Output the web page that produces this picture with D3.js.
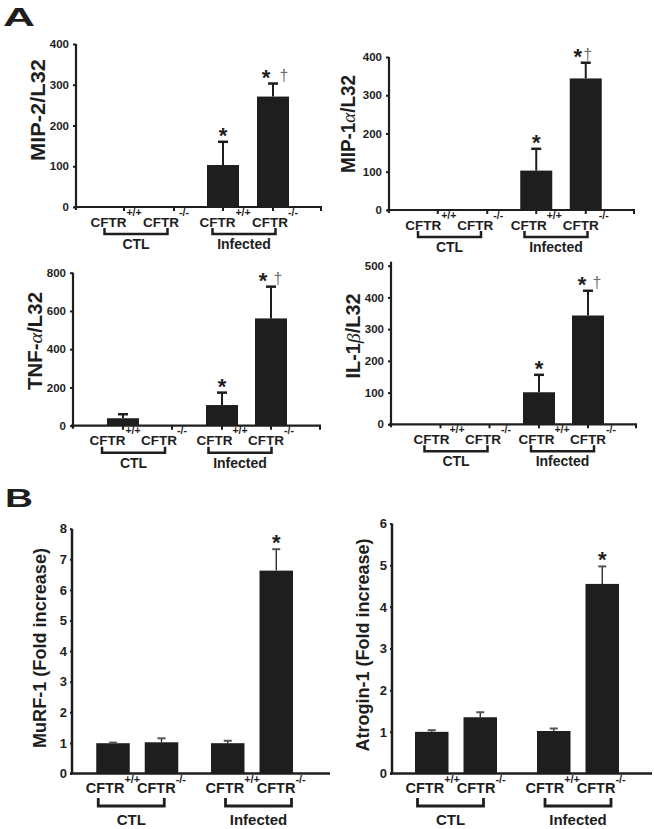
<!DOCTYPE html>
<html><head><meta charset="utf-8">
<script src="https://cdn.jsdelivr.net/npm/d3@7"></script>
<style>body{margin:0;background:#fff}svg{display:block}</style>
</head><body><svg id="c" width="654" height="829"></svg>
<script>
// ---------- data ----------
const groups = ["CTL", "Infected"];
const genotypes = ["+/+", "-/-"];

const mip2Values = [0, 0, 103, 271];
const mip2Errors = [0, 0, 57, 32];
const mip2Marks = ["", "", "*", "*†"];

const mip1aValues = [0, 0, 103, 344];
const mip1aErrors = [0, 0, 57, 41];
const mip1aMarks = ["", "", "*", "*†"];

const tnfaValues = [39, 0, 108, 561];
const tnfaErrors = [21, 0, 65, 166];
const tnfaMarks = ["", "", "*", "*†"];

const il1bValues = [0, 0, 101, 343];
const il1bErrors = [0, 0, 55, 78];
const il1bMarks = ["", "", "*", "*†"];

const murf1Values = [0.99, 1.02, 0.99, 6.63];
const murf1Errors = [0.02, 0.13, 0.08, 0.70];
const murf1Marks = ["", "", "", "*"];

const atrogin1Values = [1.0, 1.35, 1.02, 4.55];
const atrogin1Errors = [0.04, 0.12, 0.06, 0.42];
const atrogin1Marks = ["", "", "", "*"];

const ticksMip = [0, 100, 200, 300, 400];
const ticksTnf = [0, 200, 400, 600, 800];
const ticksIl1b = [0, 100, 200, 300, 400, 500];
const ticksMurf = [0, 1, 2, 3, 4, 5, 6, 7, 8];
const ticksAtrogin = [0, 1, 2, 3, 4, 5, 6];

// ---------- drawing ----------
const FONT = '"Liberation Sans", Arial, Helvetica, sans-serif';
const GREEK = '"Liberation Serif", "DejaVu Serif", serif';
const INK = "#1e1e1e";
const svg = d3.select("#c");

function panel(c) {
  const g = svg.append("g");
  const y = d3.scaleLinear().domain([0, c.max]).range([c.y0, c.yTop]);
  const gx = d3.scalePoint().domain(groups).range(c.groupX);
  const barX = i => gx(groups[Math.floor(i / 2)]) + (i % 2 ? 1 : -1) * c.inner / 2;
  const rows = c.values.map((v, i) => ({ v, e: c.errors[i], m: c.marks[i], i,
    grp: groups[Math.floor(i / 2)], geno: genotypes[i % 2] }));

  // bars
  g.selectAll("rect.bar").data(rows.filter(d => d.v > 0)).join("rect")
    .attr("x", d => barX(d.i) - c.barW / 2).attr("y", d => y(d.v))
    .attr("width", c.barW).attr("height", d => c.y0 - y(d.v))
    .attr("fill", INK);

  // error bars
  const eb = rows.filter(d => d.e > 0);
  g.selectAll("line.err").data(eb).join("line")
    .attr("x1", d => barX(d.i)).attr("x2", d => barX(d.i))
    .attr("y1", d => y(d.v)).attr("y2", d => y(d.v + d.e))
    .attr("stroke", INK).attr("stroke-width", c.errW);
  g.selectAll("line.cap").data(eb).join("line")
    .attr("x1", d => barX(d.i) - c.capW / 2).attr("x2", d => barX(d.i) + c.capW / 2)
    .attr("y1", d => y(d.v + d.e)).attr("y2", d => y(d.v + d.e))
    .attr("stroke", c.capColor).attr("stroke-width", c.capT);

  // significance marks
  const mk = rows.filter(d => d.m);
  g.selectAll("text.star").data(mk).join("text")
    .attr("x", d => barX(d.i) + (d.m.includes("†") ? c.starDx : 0))
    .attr("y", d => y(d.v + d.e) + 1)
    .attr("text-anchor", "middle").attr("font-family", FONT).attr("font-weight", "bold")
    .attr("font-size", 22).attr("fill", INK).text("*");
  g.selectAll("text.dag").data(mk.filter(d => d.m.includes("†"))).join("text")
    .attr("x", d => barX(d.i) + c.dagDx)
    .attr("y", d => y(d.v + d.e) - 3)
    .attr("text-anchor", "middle").attr("font-family", FONT)
    .attr("font-size", 16).attr("fill", "#6f6f6f").text("†");

  // y axis
  const ax = g.append("g").attr("transform", `translate(${c.axisX},0)`)
    .call(d3.axisLeft(y).tickValues(c.ticks).tickSize(c.tickLen).tickPadding(c.tickPad).tickFormat(d3.format("d")));
  ax.select(".domain").remove();
  ax.attr("font-family", FONT);
  ax.selectAll(".tick line").attr("stroke", INK).attr("stroke-width", 2);
  ax.selectAll(".tick text").attr("font-size", c.tickFont).attr("font-weight", "bold").attr("fill", INK);
  g.append("line").attr("x1", c.axisX).attr("x2", c.axisX)
    .attr("y1", y(c.max) - (c.axisOver || 0)).attr("y2", c.y0 + (c.xTicks ? 3 : 0))
    .attr("stroke", INK).attr("stroke-width", c.axisW);
  // x axis
  g.append("line").attr("x1", c.axisX - 2).attr("x2", c.axisEnd)
    .attr("y1", c.y0).attr("y2", c.y0).attr("stroke", INK).attr("stroke-width", c.axisW);
  if (c.xTicks) {
    const tx = rows.map(d => barX(d.i)).concat([c.axisEnd - 1]);
    g.selectAll("line.xt").data(tx).join("line")
      .attr("x1", d => d).attr("x2", d => d).attr("y1", c.y0).attr("y2", c.y0 + 4)
      .attr("stroke", INK).attr("stroke-width", 2);
  }

  // genotype labels
  const lab = g.selectAll("text.geno").data(rows).join("text")
    .attr("x", d => barX(d.i) + c.lblShift[Math.floor(d.i / 2)])
    .attr("y", c.y0 + c.cftrDy)
    .attr("text-anchor", "middle").attr("font-family", FONT).attr("font-weight", "bold")
    .attr("font-size", c.cftrFont).attr("fill", INK);
  lab.append("tspan").text("CFTR");
  lab.append("tspan").attr("dy", -c.supDy).attr("font-size", c.supFont).text(d => d.geno);

  // brackets + group labels
  groups.forEach((gr, k) => {
    const cx = gx(gr) + c.brShift[k], hw = c.brW / 2;
    g.append("path")
      .attr("d", `M${cx - hw},${c.y0 + c.brTop}V${c.y0 + c.brY}H${cx + hw}V${c.y0 + c.brTop}`)
      .attr("fill", "none").attr("stroke", INK).attr("stroke-width", c.brStroke);
    g.append("text").attr("x", cx).attr("y", c.y0 + c.grpDy)
      .attr("text-anchor", "middle").attr("font-family", FONT).attr("font-weight", "bold")
      .attr("font-size", c.grpFont).attr("fill", INK).text(gr);
  });

  // y label
  const t = g.append("text")
    .attr("transform", `translate(${c.labX},${c.labY}) rotate(-90)`)
    .attr("text-anchor", "middle").attr("font-family", FONT).attr("font-weight", "bold")
    .attr("font-size", c.labFont).attr("fill", INK)
    .attr("textLength", c.labLen).attr("lengthAdjust", "spacingAndGlyphs");
  c.label.forEach(s => {
    const ts = t.append("tspan").text(s.t);
    if (s.greek) ts.attr("font-family", GREEK).attr("font-style", "italic").attr("font-weight", "normal");
  });
}

const topCommon = { barW: 32, errW: 2, capW: 10, capT: 2.5, capColor: INK,
  tickLen: 3, tickPad: 4, tickFont: 11.5, axisW: 2.2, xTicks: true,
  cftrDy: 19.5, supDy: 11, cftrFont: 13.5, supFont: 10.5,
  brTop: 21, brY: 27, brW: 63, brStroke: 2.5, grpDy: 42, grpFont: 14,
  labFont: 19.5, starDx: -7, dagDx: 9 };
const botCommon = { barW: 33.5, errW: 1.3, capW: 8, capT: 2, capColor: "#555",
  tickLen: 2, tickPad: 3, tickFont: 13, axisW: 2.5, xTicks: false,
  cftrDy: 19.5, supDy: 10, cftrFont: 14.5, supFont: 11,
  brTop: 24.5, brY: 32.5, brW: 66, brStroke: 2.8, grpDy: 51, grpFont: 15,
  labFont: 18.5, starDx: 0, dagDx: 0 };

panel(Object.assign({}, topCommon, {
  values: mip2Values, errors: mip2Errors, marks: mip2Marks, ticks: ticksMip, max: 400,
  axisX: 76, axisEnd: 322, y0: 207, yTop: 44, groupX: [149, 248], inner: 50,
  lblShift: [-8, 2], brShift: [-13, -4], dagDx: 11,
  label: [{ t: "MIP-2/L32" }], labX: 45, labY: 110, labLen: 102 }));

panel(Object.assign({}, topCommon, {
  values: mip1aValues, errors: mip1aErrors, marks: mip1aMarks, ticks: ticksMip, max: 400,
  axisX: 389, axisEnd: 635, y0: 210, yTop: 57, groupX: [462.5, 561], inner: 49.5,
  lblShift: [-7, 0], brShift: [-13, -5], starDx: -8, dagDx: 2,
  label: [{ t: "MIP-1" }, { t: "α", greek: true }, { t: "/L32" }], labX: 355, labY: 124, labLen: 98 }));

panel(Object.assign({}, topCommon, {
  values: tnfaValues, errors: tnfaErrors, marks: tnfaMarks, ticks: ticksTnf, max: 800,
  axisX: 73, axisEnd: 321, y0: 425.7, yTop: 272.7, groupX: [147.5, 246.5], inner: 49,
  lblShift: [-8, 0], brShift: [-14, -6.5], starDx: -8, dagDx: 7,
  label: [{ t: "TNF-" }, { t: "α", greek: true }, { t: "/L32" }], labX: 41.7, labY: 341, labLen: 98 }));

panel(Object.assign({}, topCommon, {
  values: il1bValues, errors: il1bErrors, marks: il1bMarks, ticks: ticksIl1b, max: 500,
  axisX: 391, axisEnd: 637, y0: 424.3, yTop: 265.7, groupX: [465, 563.5], inner: 49,
  lblShift: [-1.5, 5], brShift: [-9, -1], axisOver: 4, starDx: -6, dagDx: 9,
  label: [{ t: "IL-1" }, { t: "β", greek: true }, { t: "/L32" }], labX: 360, labY: 336, labLen: 85 }));

panel(Object.assign({}, botCommon, {
  values: murf1Values, errors: murf1Errors, marks: murf1Marks, ticks: ticksMurf, max: 8,
  axisX: 72, axisEnd: 330, y0: 773.5, yTop: 528.7, groupX: [137.25, 252], inner: 48.5,
  lblShift: [0, 5], brShift: [-6, 6.5],
  label: [{ t: "MuRF-1 (Fold increase)" }], labX: 45.5, labY: 648, labLen: 200 }));

panel(Object.assign({}, botCommon, {
  values: atrogin1Values, errors: atrogin1Errors, marks: atrogin1Marks, ticks: ticksAtrogin, max: 6,
  axisX: 392, axisEnd: 652, y0: 773.5, yTop: 523.5, groupX: [456, 578], inner: 48.5,
  lblShift: [1, -1], brShift: [-5.5, 0],
  label: [{ t: "Atrogin-1 (Fold increase)" }], labX: 368.5, labY: 645, labLen: 213 }));

// panel letters
svg.append("text").attr("x", 3).attr("y", 26).attr("font-family", FONT).attr("font-weight", "bold")
  .attr("font-size", 26).attr("textLength", 32).attr("lengthAdjust", "spacingAndGlyphs")
  .attr("fill", INK).text("A");
svg.append("text").attr("x", 5).attr("y", 507).attr("font-family", FONT).attr("font-weight", "bold")
  .attr("font-size", 26).attr("textLength", 28).attr("lengthAdjust", "spacingAndGlyphs")
  .attr("fill", INK).text("B");
</script></body></html>
